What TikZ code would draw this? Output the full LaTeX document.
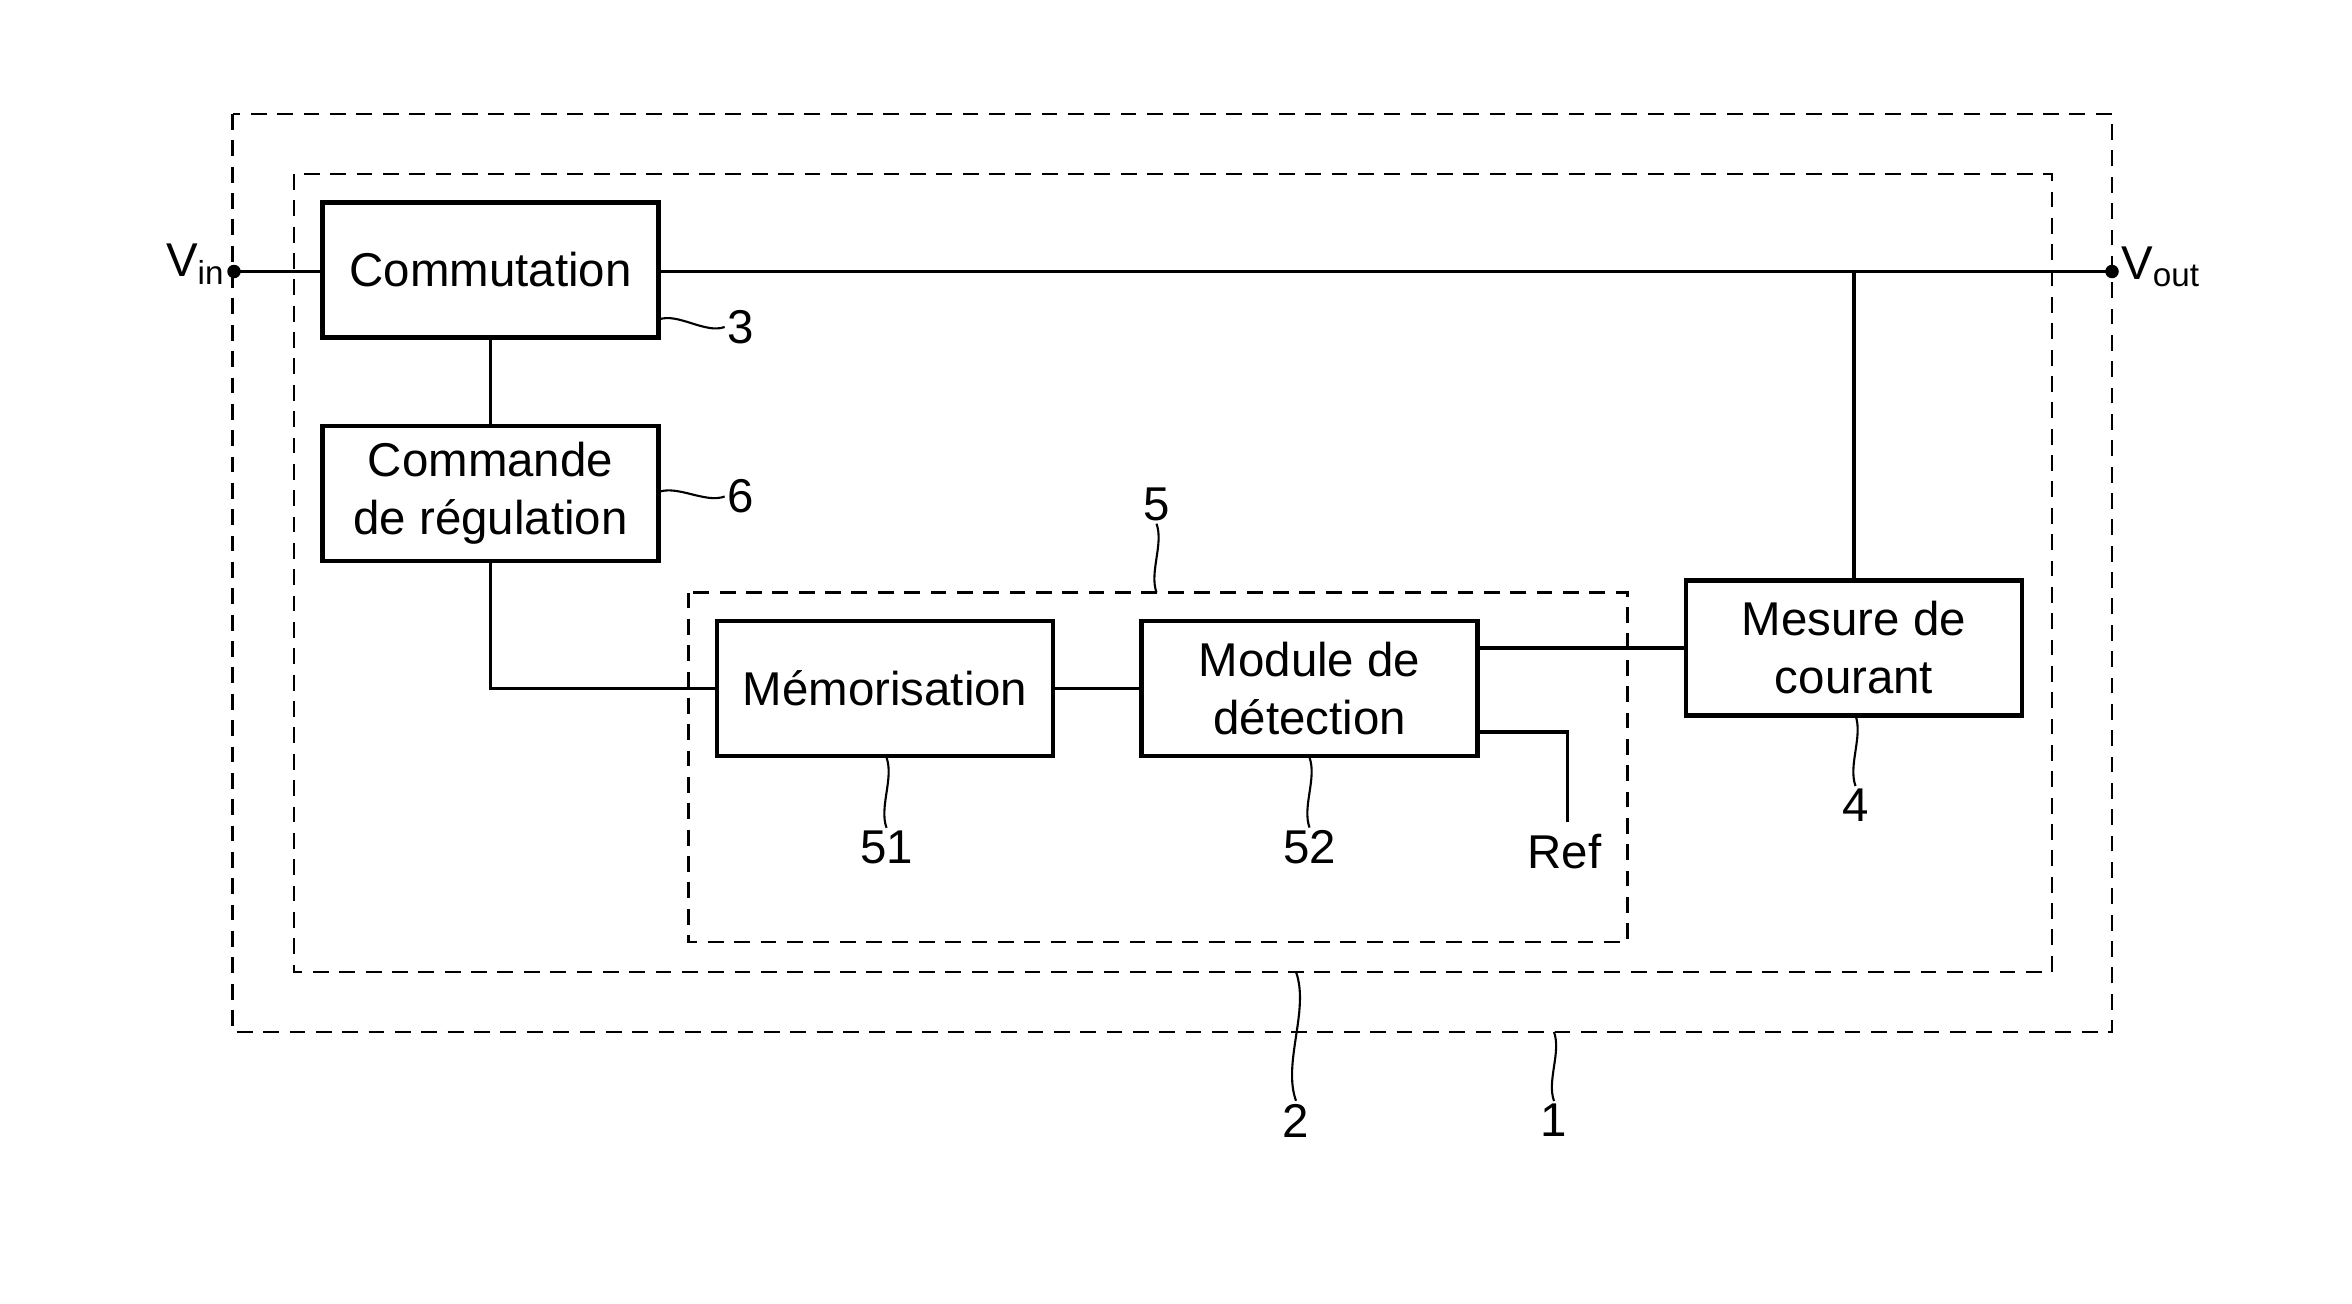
\documentclass[tikz,border=0pt]{standalone}
\usepackage{fontspec}
\setmainfont{Liberation Sans}
\begin{document}
\begin{tikzpicture}[x=0.02cm,y=-0.02cm]
 \tikzset{block/.style={draw,line width=1.7pt,minimum width=4.48cm,minimum height=1.8cm,align=center,font=\fontsize{18}{22}\selectfont,inner sep=0pt},
  frame/.style={dashed,line width=0.8pt,dash pattern=on 6pt off 4pt},
  wire/.style={line width=1.3pt},
  ref/.style={font=\fontsize{18}{20}\selectfont,inner sep=1pt},
  squig/.style={line width=0.8pt,out=-70,in=110,looseness=0.8},
  squigh/.style={line width=0.8pt,out=20,in=200,looseness=0.8}}
  \useasboundingbox (0,0) rectangle (1568,869);
  % frames
  \draw[frame] (155,76) rectangle (1408,688);
  \draw[frame] (196,116) rectangle (1368,648);
  \draw[frame] (459,395) rectangle (1085,628);
  % blocks
  \node[block] (com) at (327,180) {Commutation};
  \node[block] (reg) at (327,329) {Commande\\de régulation};
  \node[block] (mem) at (590,459) {Mémorisation};
  \node[block] (det) at (873,459) {Module de\\détection};
  \node[block] (mes) at (1236,432) {Mesure de\\courant};
  % terminals
  \fill (156,181) circle (4.5) coordinate (vin);
  \fill (1408,181) circle (4.5) coordinate (vout);
  \node[ref,left] at (152,176) {V\textsubscript{in}};
  \node[ref,right] at (1412,178) {V\textsubscript{out}};
  \coordinate (tap) at (1236,181);
  \coordinate (rf) at (1045,548);
  \node[ref] (ref) at (1043,568) {Ref};
  % wires
  \draw[wire] (vin) -- (com.west|-vin);
  \draw[wire] (com.east|-vin) -- (vout);
  \draw[wire] (tap) -- (mes.north);
  \draw[wire] (com) -- (reg);
  \draw[wire] (reg.south) |- (mem.west);
  \draw[wire] (mem) -- (det);
  \draw[wire] (det.east|-mes) -- (mes.west);
  \draw[wire] (det.east|-0,488) -| (rf);
  % labels
  \node[ref] (n3) at (494,218) {3};
  \node[ref] (n6) at (494,331) {6};
  \node[ref] (n5) at (771,336) {5};
  \node[ref] (n51) at (591,565) {51};
  \node[ref] (n52) at (873,565) {52};
  \node[ref] (n4) at (1237,537) {4};
  \node[ref] (n2) at (864,747) {2};
  \node[ref] (n1) at (1036,747) {1};
  \draw[squigh] (439,213) to (n3.west);
  \draw[squigh] (439,328) to (n6.west);
  \draw[squig] (n5.south) to (771,395);
  \draw[squig] (591,505) to (n51.north);
  \draw[squig] (873,505) to (n52.north);
  \draw[squig] (1237,477) to (n4.north);
  \draw[squig] (864,648) to (n2.north);
  \draw[squig] (1036,688) to (n1.north);
\end{tikzpicture}
\end{document}
